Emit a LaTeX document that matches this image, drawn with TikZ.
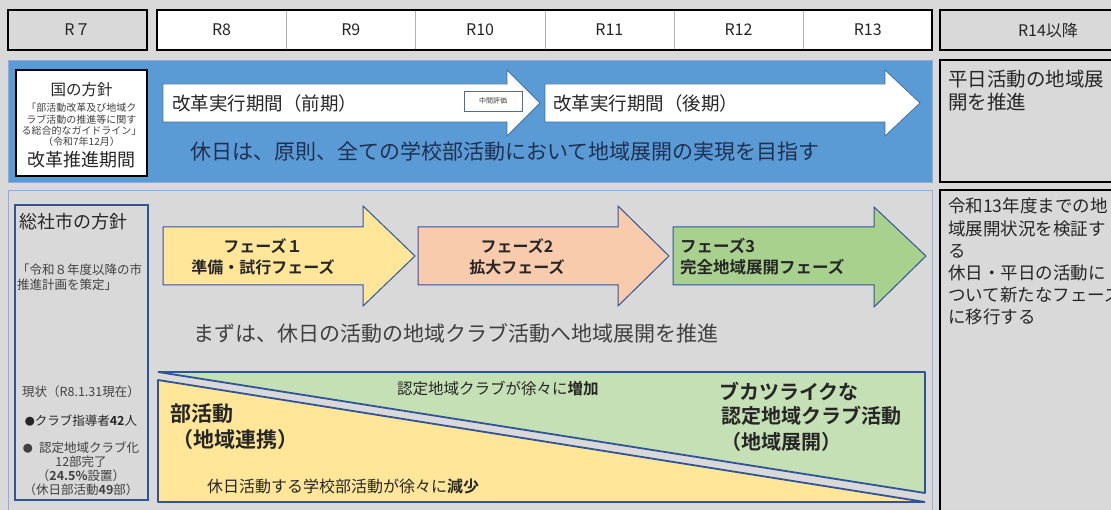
\documentclass[tikz,border=0pt]{standalone}
\usepackage{fontspec}
\setmainfont{Noto Sans CJK JP}[BoldFont={Noto Sans CJK JP Bold}]
\usetikzlibrary{positioning}
\definecolor{bggray}{HTML}{D9D9D9}
\definecolor{bandblue}{HTML}{5B9BD5}
\definecolor{bandedge}{HTML}{8FAADC}
\definecolor{navy}{HTML}{2F5597}
\definecolor{arrowedge}{HTML}{41719C}
\definecolor{phaseone}{HTML}{FFE699}
\definecolor{phasetwo}{HTML}{F8CBAD}
\definecolor{phasethree}{HTML}{A9D18E}
\definecolor{clubgreen}{HTML}{C5E0B4}
\definecolor{ink}{HTML}{262626}
\definecolor{softink}{HTML}{404040}
\definecolor{bluetext}{HTML}{1F3050}
\newcommand\fsz[2]{\fontsize{#1}{#2}\selectfont}
\tikzset{
  yearbox/.style={draw=black, line width=2pt},
  yearlbl/.style={font=\fsz{16}{19}, text=ink},
  sidebox/.style={draw=black, line width=1.2pt, fill=bggray},
  bandarrow/.style={draw=arrowedge, line width=0.8pt, fill=white},
  phasearrow/.style={draw=navy, line width=1pt},
  tri/.style={draw=navy, line width=1.8pt, line join=bevel},
  plain/.style={inner sep=0pt, text=ink}
}
\begin{document}
\begin{tikzpicture}[x=1pt,y=-1pt]
    \useasboundingbox (0,0) rectangle (1111,510);
    \clip (0,0) rectangle (1111,510);
    \fill[bggray] (0,0) rectangle (1111,510);
    % year header
    \draw[yearbox, fill=bggray] (8,10) rectangle (147,50);
    \node[yearlbl] (hdrR7) at (77.5,30) {R７};
    \fill[white] (157,10) rectangle (932,50);
    \draw[gray!60] (286,10)--(286,50) (415,10)--(415,50) (545,10)--(545,50)
                   (674,10)--(674,50) (803,10)--(803,50);
    \draw[yearbox] (157,10) rectangle (932,50);
    \node[yearlbl] (hdrR8) at (221.6,30) {R8};
    \node[yearlbl] (hdrR9) at (350.8,30) {R9};
    \node[yearlbl] (hdrR10) at (480.1,30) {R10};
    \node[yearlbl] (hdrR11) at (609.3,30) {R11};
    \node[yearlbl] (hdrR12) at (738.5,30) {R12};
    \node[yearlbl] (hdrR13) at (867.7,30) {R13};
    \draw[yearbox, fill=bggray] (940,10) rectangle (1160,50);
    \node[yearlbl] (hdrR14) at (1048,30) {R14以降};
    % national band
    \draw[draw=bandedge, fill=bandblue] (8,60) rectangle (932,182);
    \draw[black, line width=1.2pt, fill=white] (16,70) rectangle (147,176);
    \node[plain, font=\fsz{15.5}{18}] (kuniTitle) at (81.5,90) {国の方針};
    \node[plain, align=center, text=softink, font=\fsz{10}{11.3}] (kuniGuide) at (81.5,125)
        {「部活動改革及び地域ク\\ラブ活動の推進等に関す\\る総合的なガイドライン」\\（令和7年12月）};
    \node[plain, font=\fsz{18}{20}] (kuniPeriod) at (81.5,160) {改革推進期間};
    \draw[bandarrow] (163,84)--(507,84)--(507,70)--(540,103)--(507,136)--(507,122)--(163,122)--cycle;
    \draw[bandarrow] (545,84)--(885,84)--(885,70)--(920,103)--(885,136)--(885,122)--(545,122)--cycle;
    \node[draw=arrowedge, fill=white, minimum width=58pt, minimum height=20pt, inner sep=0pt,
          font=\fsz{7}{8}, text=softink] (midEval) at (493,101) {中間評価};
    \node[plain, anchor=west, font=\fsz{18.5}{21}] (earlyLbl) at (172,103) {改革実行期間（前期）};
    \node[plain, anchor=west, font=\fsz{18.5}{21}] (lateLbl) at (553,103) {改革実行期間（後期）};
    \node[plain, anchor=west, text=bluetext, font=\fsz{21}{24}] (holidayGoal) at (190,152)
        {休日は、原則、全ての学校部活動において地域展開の実現を目指す};
    \draw[sidebox] (940,60) rectangle (1160,182);
    \node[plain, anchor=north west, align=left, font=\fsz{19.5}{23}] (weekdayNote) at (948,70)
        {平日活動の地域展\\開を推進};
    % city band
    \draw[draw=bandedge, fill=bggray] (8,190) rectangle (932,520);
    \draw[navy, line width=2.5pt] (15,205) rectangle (148,500);
    \node[plain, anchor=west, font=\fsz{18}{20}] (cityTitle) at (19,222) {総社市の方針};
    \node[plain, anchor=north west, align=left, text=softink, font=\fsz{12.5}{15}] (cityPlan) at (17,264)
        {「令和８年度以降の市\\推進計画を策定」};
    \node[plain, text=softink, font=\fsz{12.5}{14}] (nowLbl) at (81,392) {現状（R8.1.31現在）};
    \node[plain, text=ink, font=\fsz{12.5}{14}] (coachLbl) at (81,421) {{\fsz{10}{14}●}クラブ指導者\textbf{42}人};
    \node[plain, align=center, text=softink, font=\fsz{12.5}{14}] (clubLbl) at (81,469)
        {{\fsz{10}{14}●}\enspace 認定地域クラブ化\\12部完了\\（\textbf{24.5\%}設置）\\（休日部活動\textbf{49}部）};
    % phases
    \draw[phasearrow, fill=phaseone] (163,227)--(363,227)--(363,206)--(415,256)--(363,306)--(363,285)--(163,285)--cycle;
    \draw[phasearrow, fill=phasetwo] (418,227)--(618,227)--(618,206)--(669,256)--(618,306)--(618,285)--(418,285)--cycle;
    \draw[phasearrow, fill=phasethree] (673,227)--(874,227)--(874,207)--(926,256)--(874,307)--(874,285)--(673,285)--cycle;
    \node[plain, align=center, font=\fsz{16}{21}\bfseries] (phaseOne) at (263,257) {フェーズ１\\準備・試行フェーズ};
    \node[plain, align=center, font=\fsz{16}{21}\bfseries] (phaseTwo) at (517,257) {フェーズ2\\拡大フェーズ};
    \node[plain, anchor=west, align=left, font=\fsz{16.5}{21}\bfseries] (phaseThree) at (680,257) {フェーズ3\\完全地域展開フェーズ};
    \node[plain, anchor=west, text=softink, font=\fsz{21}{24}] (firstStep) at (193,333)
        {まずは、休日の活動の地域クラブ活動へ地域展開を推進};
    % shift triangles
    \draw[tri, fill=clubgreen] (158,372)--(925,372)--(925,493)--cycle;
    \draw[tri, fill=phaseone] (158,380)--(925,502)--(158,502)--cycle;
    \node[plain, anchor=west, font=\fsz{15.5}{18}] (clubRise) at (397,389) {認定地域クラブが徐々に\textbf{増加}};
    \node[plain, anchor=west, font=\fsz{21}{24}\bfseries] (bukatsuLbl) at (170,414) {部活動};
    \node[plain, anchor=west, font=\fsz{21}{24}\bfseries] (bukatsuSub) at (172,440) {（地域連携）};
    \node[plain, anchor=west, font=\fsz{16}{18}] (schoolFall) at (207,486) {休日活動する学校部活動が徐々に\textbf{減少}};
    \node[plain, anchor=west, font=\fsz{20}{22}\bfseries] (bukatsuLike) at (719,391) {ブカツライクな};
    \node[plain, anchor=west, font=\fsz{20}{22}\bfseries] (clubAct) at (721,416) {認定地域クラブ活動};
    \node[plain, anchor=west, font=\fsz{20}{22}\bfseries] (clubSub) at (721,442) {（地域展開）};
    \draw[sidebox] (940,190) rectangle (1160,520);
    \node[plain, anchor=north west, align=left, font=\fsz{17.5}{22.2}] (reviewNote) at (948,198)
        {令和13年度までの地\\域展開状況を検証す\\る\\休日・平日の活動に\\ついて新たなフェーズ\\に移行する};
\end{tikzpicture}
\end{document}
